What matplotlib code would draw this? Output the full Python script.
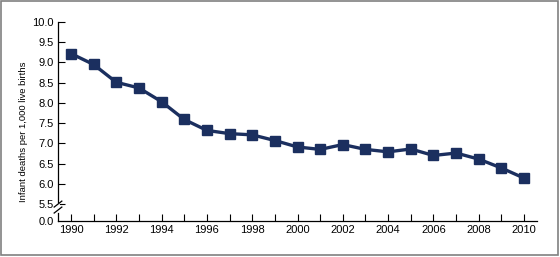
import matplotlib.pyplot as plt
from matplotlib.patches import Rectangle

plt.rcParams['font.family'] = ['Liberation Sans', 'DejaVu Sans']

years = list(range(1990, 2011))
rates = [9.22, 8.95, 8.51, 8.37, 8.03, 7.59, 7.32, 7.24, 7.21, 7.07, 6.91,
         6.85, 6.97, 6.85, 6.79, 6.86, 6.70, 6.76, 6.61, 6.39, 6.14]
ytick_vals = [5.5, 6.0, 6.5, 7.0, 7.5, 8.0, 8.5, 9.0, 9.5, 10.0]
ylabel = "Infant deaths per 1,000 live births"

# bottom of the axis stands for 0.0 (broken scale)
y_bottom = 5.08

fig = plt.figure(figsize=(5.6, 2.57), dpi=100)
ax = fig.add_axes([58 / 560, 1 - 221 / 257, (537 - 58) / 560, (221 - 22) / 257])

ax.plot(years, rates, color='#1b2f5f', linewidth=2.4, marker='s',
        markersize=6.5, markeredgecolor='#1b2f5f', zorder=3)

ax.set_xlim(1989.43, 2010.57)
ax.set_ylim(y_bottom, 10.0)
ax.set_xticks(years)
ax.set_xticklabels([str(y) if y % 2 == 0 else '' for y in years])
ax.set_yticks([y_bottom] + ytick_vals)
ax.set_yticklabels(['0.0'] + [f"{v:.1f}" for v in ytick_vals])
ax.tick_params(direction='in', length=5, width=0.8, labelsize=8,
               colors='black', pad=3)
ax.yaxis.get_major_ticks()[0].tick1line.set_visible(False)

for side in ['top', 'right']:
    ax.spines[side].set_visible(False)
for side in ['left', 'bottom']:
    ax.spines[side].set_linewidth(0.9)

ax.set_ylabel(ylabel, fontsize=6.8)
ax.yaxis.set_label_coords(-0.062, 0.45)

# axis break marks
kw = dict(transform=ax.transAxes, color='black', linewidth=0.9, clip_on=False)
ax.plot([0.0, 0.0], [0.05, 0.085], color='white', linewidth=2,
        transform=ax.transAxes, clip_on=False, zorder=4)
ax.plot([-0.008, 0.008], [0.04, 0.07], zorder=5, **kw)
ax.plot([-0.008, 0.008], [0.07, 0.10], zorder=5, **kw)

# frame around the figure
fig.patches.append(Rectangle((0.002, 0.006), 0.994, 0.99, transform=fig.transFigure,
                             fill=False, edgecolor='#808080', linewidth=1.2))

fig.savefig('out.png', dpi=100)
